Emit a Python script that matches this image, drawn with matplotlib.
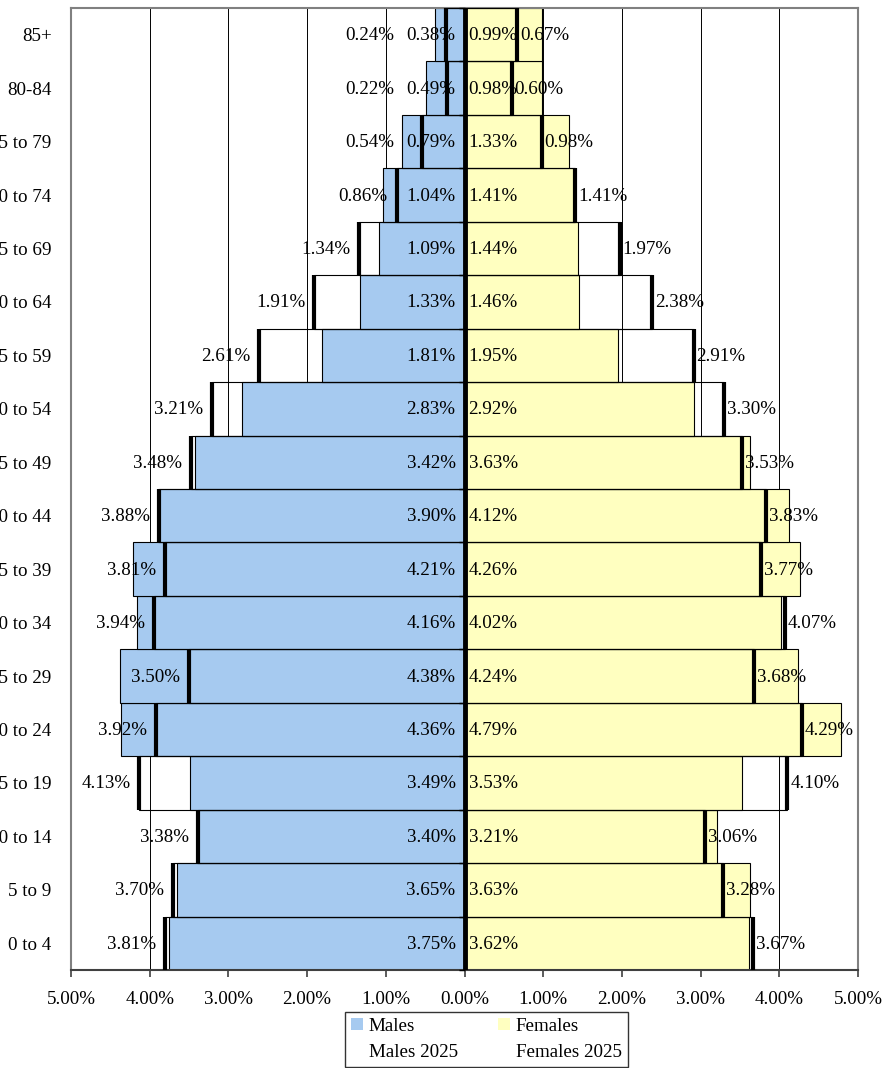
import matplotlib
matplotlib.use("Agg")
import matplotlib.pyplot as plt
from matplotlib.patches import Patch
from matplotlib.transforms import offset_copy
import numpy as np

plt.rcParams['font.family'] = ['Liberation Serif', 'DejaVu Serif']

# Age groups, youngest first (drawn bottom to top)
age_groups = ["0 to 4", "5 to 9", "10 to 14", "15 to 19", "20 to 24", "25 to 29",
              "30 to 34", "35 to 39", "40 to 44", "45 to 49", "50 to 54", "55 to 59",
              "60 to 64", "65 to 69", "70 to 74", "75 to 79", "80-84", "85+"]

# Share of total population (%), current
males = [3.75, 3.65, 3.40, 3.49, 4.36, 4.38, 4.16, 4.21, 3.90, 3.42, 2.83, 1.81,
         1.33, 1.09, 1.04, 0.79, 0.49, 0.38]
females = [3.62, 3.63, 3.21, 3.53, 4.79, 4.24, 4.02, 4.26, 4.12, 3.63, 2.92, 1.95,
           1.46, 1.44, 1.41, 1.33, 0.98, 0.99]

# Projected share of total population (%), 2025
males_2025 = [3.81, 3.70, 3.38, 4.13, 3.92, 3.50, 3.94, 3.81, 3.88, 3.48, 3.21, 2.61,
              1.91, 1.34, 0.86, 0.54, 0.22, 0.24]
females_2025 = [3.67, 3.28, 3.06, 4.10, 4.29, 3.68, 4.07, 3.77, 3.83, 3.53, 3.30, 2.91,
                2.38, 1.97, 1.41, 0.98, 0.60, 0.67]

x_ticks = [-5, -4, -3, -2, -1, 0, 1, 2, 3, 4, 5]

BLUE = "#A6CAF0"
YELLOW = "#FFFFC0"
FS = 13.7

m = np.array(males)
f = np.array(females)
m25 = np.array(males_2025)
f25 = np.array(females_2025)
y = np.arange(len(age_groups))

fig = plt.figure(figsize=(8.86, 10.68), dpi=100)
W, H = 886, 1068
ax = fig.add_axes([71 / W, 1 - 970 / H, (858 - 71) / W, (970 - 8) / H])

# vertical gridlines
for t in x_ticks:
    ax.axvline(t, color="black", lw=0.7, zorder=0)

# current distribution
ax.barh(y, -m, height=1.0, color=BLUE, edgecolor="black", lw=0.8, zorder=2)
ax.barh(y, f, height=1.0, color=YELLOW, edgecolor="black", lw=0.8, zorder=2)

# 2025 projection: open outlines with a heavy end cap
ax.barh(y, -m25, height=1.0, facecolor="none", edgecolor="black", lw=0.8, zorder=3)
ax.barh(y, f25, height=1.0, facecolor="none", edgecolor="black", lw=0.8, zorder=3)
ax.vlines(-m25, y - 0.5, y + 0.5, color="black", lw=3.0, zorder=4)
ax.vlines(f25, y - 0.5, y + 0.5, color="black", lw=3.0, zorder=4)

# centre axis with category ticks
ax.axvline(0, color="black", lw=3.5, zorder=5)
bounds = np.arange(len(age_groups) + 1) - 0.5
ax.plot(np.zeros_like(bounds), bounds, ls="none", marker=0, ms=4.5,
        mew=1.0, color="black", zorder=5, clip_on=False)

# value labels
tr_left_in = offset_copy(ax.transData, fig=fig, x=-9, y=-1, units="dots")
tr_right_in = offset_copy(ax.transData, fig=fig, x=4, y=-1, units="dots")
tr_left_out = offset_copy(ax.transData, fig=fig, x=-9, y=-1, units="dots")
tr_right_out = offset_copy(ax.transData, fig=fig, x=3, y=-1, units="dots")
min_outer_reach = 0.78
for i in range(len(age_groups)):
    ax.text(0, y[i], f"{m[i]:.2f}%", ha="right", va="center", fontsize=FS,
            transform=tr_left_in, zorder=6)
    ax.text(0, y[i], f"{f[i]:.2f}%", ha="left", va="center", fontsize=FS,
            transform=tr_right_in, zorder=6)
    ax.text(-max(m25[i], min_outer_reach), y[i], f"{m25[i]:.2f}%", ha="right",
            va="center", fontsize=FS, transform=tr_left_out, zorder=6)
    ax.text(f25[i], y[i], f"{f25[i]:.2f}%", ha="left", va="center", fontsize=FS,
            transform=tr_right_out, zorder=6)

ax.set_xlim(-5, 5)
ax.set_ylim(-0.5, len(age_groups) - 0.5)
ax.set_xticks(x_ticks)
ax.set_xticklabels([f"{abs(t):.2f}%" for t in x_ticks], fontsize=FS)
ax.set_yticks(y)
ax.set_yticklabels(age_groups, fontsize=FS)
ax.tick_params(axis="y", length=0, pad=14)
ax.tick_params(axis="x", length=5, width=1.2, color="#404040", pad=10, direction="out")

for side in ["top", "right", "left"]:
    ax.spines[side].set_color("#808080")
    ax.spines[side].set_linewidth(1.5)
ax.spines["bottom"].set_color("#404040")
ax.spines["bottom"].set_linewidth(1.5)

handles = [Patch(facecolor=BLUE, edgecolor="none"),
           Patch(facecolor="none", edgecolor="none"),
           Patch(facecolor=YELLOW, edgecolor="none"),
           Patch(facecolor="none", edgecolor="none")]
labels = ["Males", "Males 2025", "Females", "Females 2025"]
leg = fig.legend(handles, labels, ncol=2, loc="upper left",
                 bbox_to_anchor=(345 / W, 1 - 1012 / H), borderaxespad=0,
                 fontsize=FS, frameon=True, fancybox=False, shadow=False,
                 handlelength=0.65, handleheight=0.65, handletextpad=0.3,
                 columnspacing=2.1, labelspacing=0.5, borderpad=0.3)
leg.get_frame().set_edgecolor("black")
leg.get_frame().set_linewidth(1.0)

fig.savefig("out.png", dpi=100)
